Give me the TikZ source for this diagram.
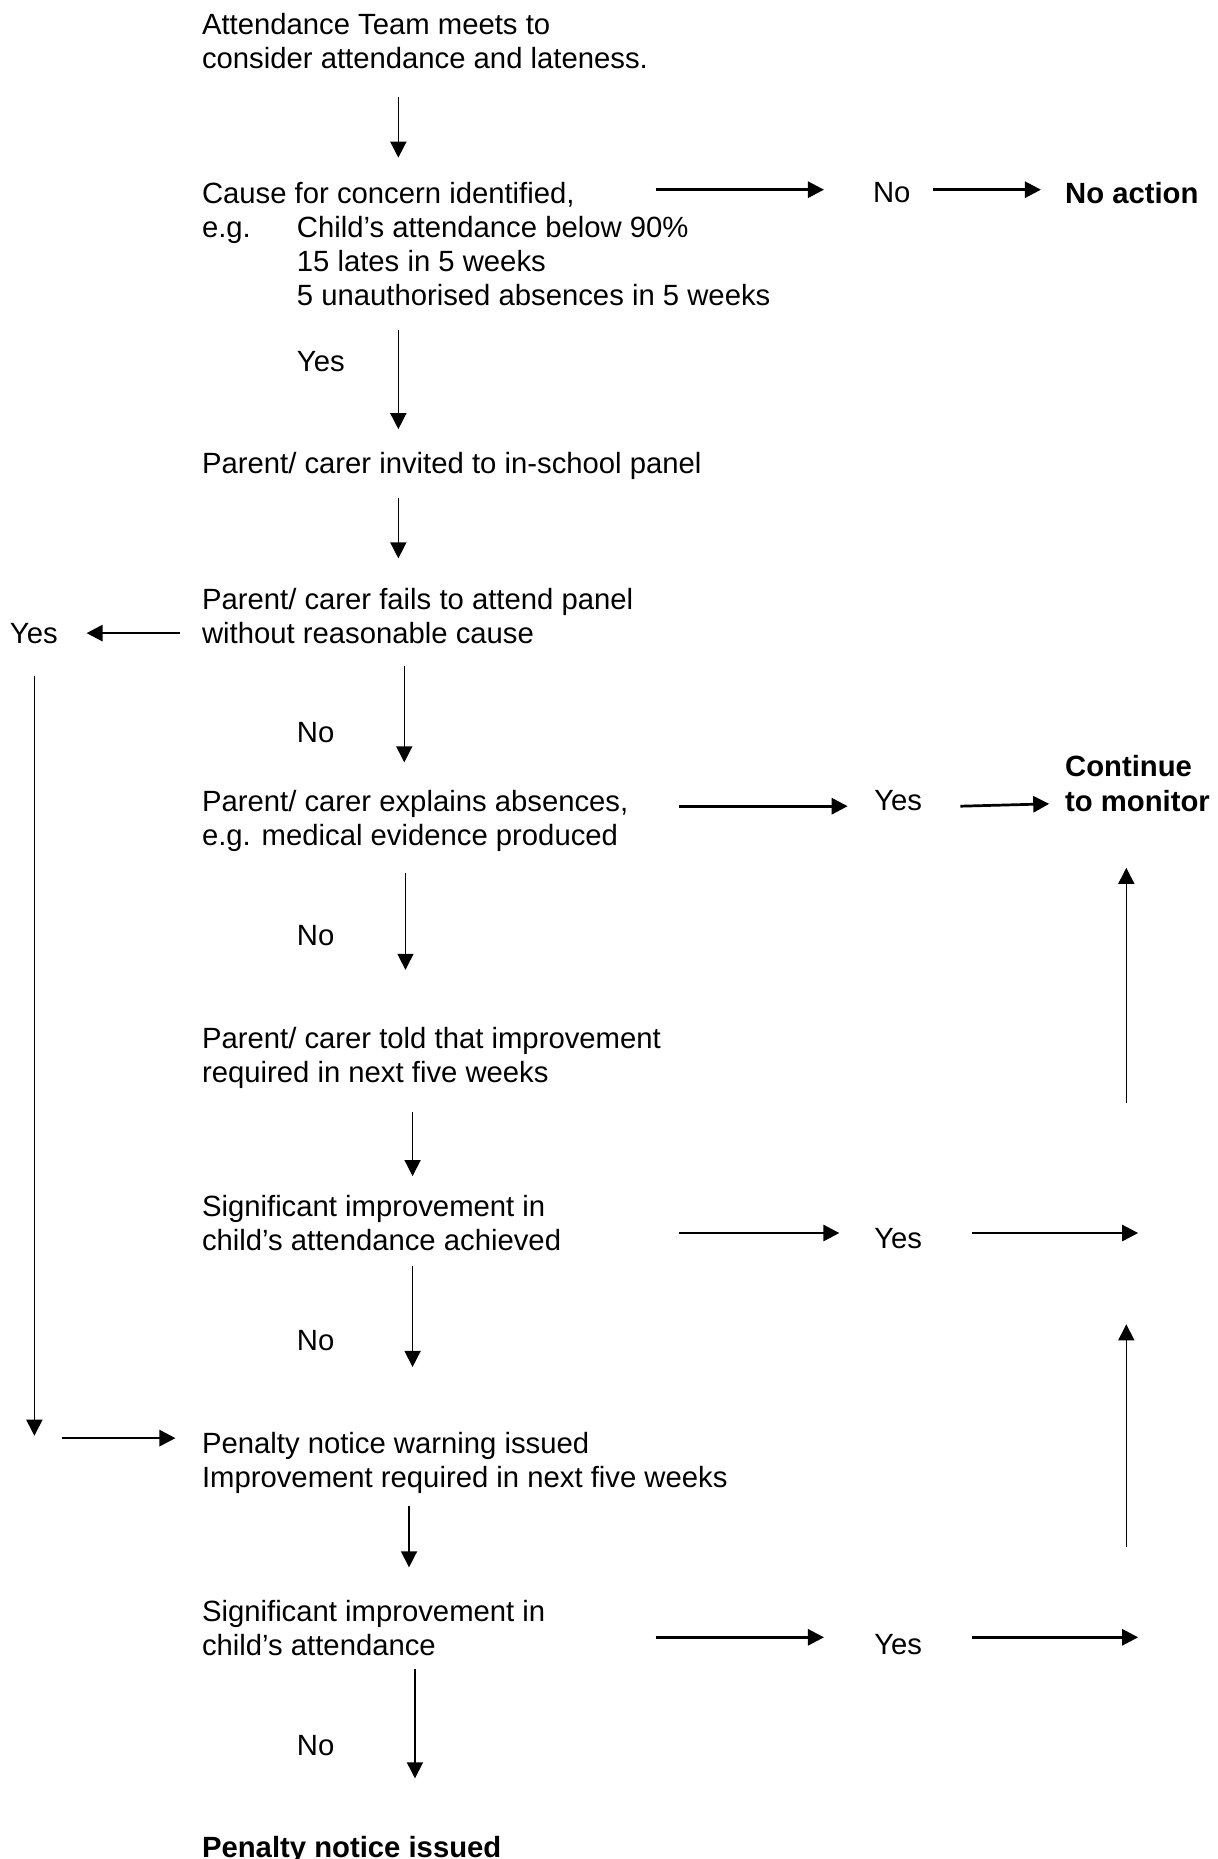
\documentclass[tikz,border=0pt]{standalone}
\usepackage{fontspec}
\setmainfont{Liberation Sans}
\usetikzlibrary{arrows.meta}
\begin{document}
\begin{tikzpicture}[x=0.48pt,y=-0.48pt,
  txt/.style={anchor=north west,inner sep=0pt,align=left,font=\fontsize{11.85}{13.8}\selectfont},
  btxt/.style={txt,font=\fontsize{11.85}{13.8}\selectfont\bfseries},
  varr/.style={line width=0.6pt,-{Triangle[length=6.5pt,width=6.5pt]}},
  harr/.style={line width=1.1pt,-{Triangle[length=6.5pt,width=6.5pt]}},
  vline/.style={line width=0.6pt}]
\useasboundingbox (0,0) rectangle (1027,1568);
% texts (top = centre - 9)
\node[txt] (start) at (170,11) {Attendance Team meets to\\consider attendance and lateness.};
\node[txt] (cause) at (170,153) {Cause for concern identified,\\\makebox[38.4pt][l]{e.g.}Child’s attendance below 90\%\\\hspace*{38.4pt}15 lates in 5 weeks\\\hspace*{38.4pt}5 unauthorised absences in 5 weeks};
\node[txt] (no1) at (736,153) {No};
\node[btxt] (noaction) at (898,153) {No action};
\node[txt] (yes1) at (250,296) {Yes};
\node[txt] (invited) at (170,381) {Parent/ carer invited to in-school panel};
\node[txt] (fails) at (170,496) {Parent/ carer fails to attend panel\\without reasonable cause};
\node[txt] (yes2) at (8,525) {Yes};
\node[txt] (no2) at (250,609) {No};
\node[txt] (explains) at (170,666) {Parent/ carer explains absences,\\e.g. medical evidence produced};
\node[txt] (yes3) at (737,666) {Yes};
\node[btxt] (monitor) at (898,637) {Continue\\to monitor};
\node[txt] (no3) at (250,780) {No};
\node[txt] (told) at (170,866) {Parent/ carer told that improvement\\required in next five weeks};
\node[txt] (sig1) at (170,1008) {Significant improvement in\\child’s attendance achieved};
\node[txt] (yes4) at (737,1036) {Yes};
\node[txt] (no4) at (250,1122) {No};
\node[txt] (warning) at (170,1208) {Penalty notice warning issued\\Improvement required in next five weeks};
\node[txt] (sig2) at (170,1349) {Significant improvement in\\child’s attendance};
\node[txt] (yes5) at (737,1378) {Yes};
\node[txt] (no5) at (250,1463) {No};
\node[btxt] (penalty) at (170,1548) {Penalty notice issued};
% connector end points
\coordinate (a1s) at (336,82);   \coordinate (a1e) at (336,133);
\coordinate (h1s) at (553,160);  \coordinate (h1e) at (695,160);
\coordinate (h2s) at (787,160);  \coordinate (h2e) at (878,160);
\coordinate (a2s) at (336,278);  \coordinate (a2e) at (336,362);
\coordinate (a3s) at (336,420);  \coordinate (a3e) at (336,471);
\coordinate (h3s) at (152,534);  \coordinate (h3e) at (73,534);
\coordinate (l1s) at (29,570);   \coordinate (l1e) at (29,1211);
\coordinate (a4s) at (341,562);  \coordinate (a4e) at (341,643);
\coordinate (h4s) at (573,680);  \coordinate (h4e) at (715,680);
\coordinate (h5s) at (810,680);  \coordinate (h5e) at (885,678);
\coordinate (u1s) at (950,930);  \coordinate (u1e) at (950,732);
\coordinate (a5s) at (342,736);  \coordinate (a5e) at (342,818);
\coordinate (a6s) at (348,938);  \coordinate (a6e) at (348,992);
\coordinate (h6s) at (573,1040); \coordinate (h6e) at (708,1040);
\coordinate (h7s) at (820,1040); \coordinate (h7e) at (960,1040);
\coordinate (a7s) at (348,1068); \coordinate (a7e) at (348,1153);
\coordinate (u2s) at (950,1305); \coordinate (u2e) at (950,1117);
\coordinate (h8s) at (52,1213);  \coordinate (h8e) at (148,1213);
\coordinate (a8s) at (345,1270); \coordinate (a8e) at (345,1322);
\coordinate (h9s) at (553,1381); \coordinate (h9e) at (695,1381);
\coordinate (h10s) at (820,1381); \coordinate (h10e) at (960,1381);
\coordinate (a9s) at (350,1408); \coordinate (a9e) at (350,1500);
% connectors
\draw[varr] (a1s) -- (a1e);
\draw[harr] (h1s) -- (h1e);
\draw[harr] (h2s) -- (h2e);
\draw[varr] (a2s) -- (a2e);
\draw[varr] (a3s) -- (a3e);
\draw[harr] (h3s) -- (h3e);
\draw[varr] (l1s) -- (l1e);
\draw[varr] (a4s) -- (a4e);
\draw[harr] (h4s) -- (h4e);
\draw[harr] (h5s) -- (h5e);
\draw[varr] (u1s) -- (u1e);
\draw[varr] (a5s) -- (a5e);
\draw[varr] (a6s) -- (a6e);
\draw[harr] (h6s) -- (h6e);
\draw[harr] (h7s) -- (h7e);
\draw[varr] (a7s) -- (a7e);
\draw[varr] (u2s) -- (u2e);
\draw[harr] (h8s) -- (h8e);
\draw[varr] (a8s) -- (a8e);
\draw[harr] (h9s) -- (h9e);
\draw[harr] (h10s) -- (h10e);
\draw[varr] (a9s) -- (a9e);
\end{tikzpicture}
\end{document}
